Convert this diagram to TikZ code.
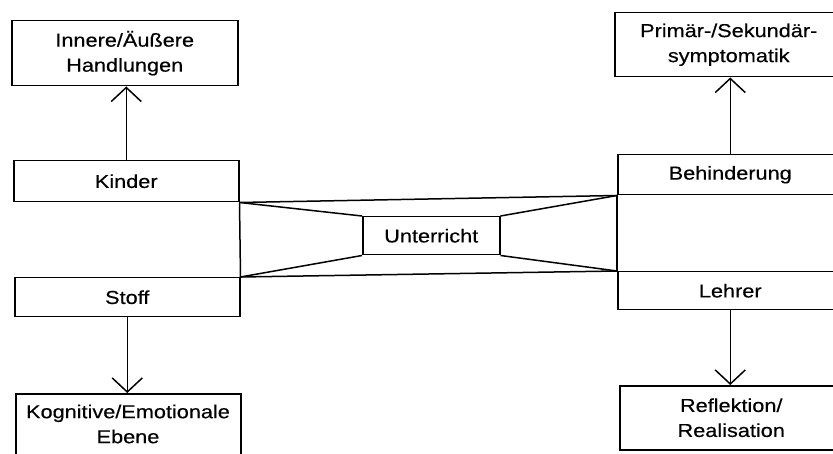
\documentclass[tikz,border=0pt]{standalone}
\usepackage{fontspec}
\setmainfont{Liberation Sans}[FakeStretch=1.16,FakeBold=0.4]
\usetikzlibrary{arrows.meta}
\begin{document}
\begin{tikzpicture}[x=1pt,y=-1pt,
  box/.style={draw, line width=1.5pt, rectangle, inner sep=0pt, align=center, anchor=north west,
    font=\fontsize{18.7}{25}\selectfont},
  txt/.style={inner sep=0pt, align=center, font=\fontsize{18.7}{25}\selectfont},
  conn/.style={line width=1.5pt},
  arr/.style={line width=1.5pt, -{Straight Barb[length=14pt,width=30pt]}}]
\useasboundingbox (0,0) rectangle (833,454);
\clip (0,0) rectangle (833,454);
% boxes
\node[box, minimum width=226pt, minimum height=65pt] (HA) at (11,20) {Innere/Äußere\\Handlungen};
\node[box, minimum width=228pt, minimum height=64pt] (PS) at (614,12) {Primär-/Sekundär-\\symptomatik};
\node[box, minimum width=225pt, minimum height=41pt] (Kin) at (13,160) {Kinder};
\node[box, minimum width=225pt, minimum height=39pt] (Sto) at (14,277) {Stoff};
\node[box, minimum width=137pt, minimum height=38pt] (Unt) at (362,216) {Unterricht};
\node[box, minimum width=225pt, minimum height=40pt] (Beh) at (617,154) {Behinderung};
\node[box, minimum width=225pt, minimum height=38pt] (Leh) at (617,271) {Lehrer};
\node[box, minimum width=225pt, minimum height=80pt] (KE) at (15,393) {};
\node[txt] (KEt) at (128,424) {Kognitive/Emotionale\\Ebene};
\node[box, minimum width=223pt, minimum height=64pt] (RR) at (619,385) {Reflektion/\\Realisation};
% frame lines
\draw[conn] (Kin.south east) -- (Sto.north east);
\draw[conn] (Beh.south west) -- (Leh.north west);
\draw[conn] (Kin.south east) -- (Beh.south west);
\draw[conn] (Sto.north east) -- (Leh.north west);
% trapezoid lines
\draw[conn] (Kin.south east) -- (Unt.north west);
\draw[conn] (Sto.north east) -- (Unt.south west);
\draw[conn] (Unt.north east) -- (Beh.south west);
\draw[conn] (Unt.south east) -- (Leh.north west);
% arrows
\draw[arr] (Kin.north) -- (Kin.north |- HA.south);
\draw[arr] (Beh.north) -- (Beh.north |- PS.south);
\draw[arr] (Sto.south) -- (Sto.south |- KE.north);
\draw[arr] (Leh.south) -- (Leh.south |- RR.north);
\end{tikzpicture}
\end{document}
